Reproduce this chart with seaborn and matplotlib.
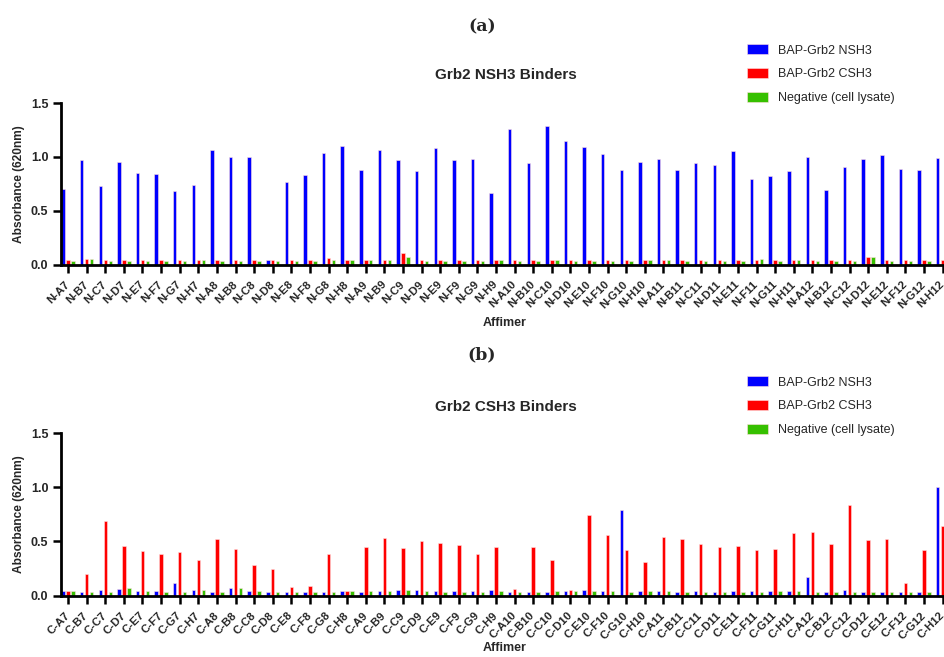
import matplotlib
matplotlib.use("Agg")
import matplotlib.pyplot as plt
import seaborn as sns
import pandas as pd

n_labels = ["N-A7","N-B7","N-C7","N-D7","N-E7","N-F7","N-G7","N-H7",
            "N-A8","N-B8","N-C8","N-D8","N-E8","N-F8","N-G8","N-H8",
            "N-A9","N-B9","N-C9","N-D9","N-E9","N-F9","N-G9","N-H9",
            "N-A10","N-B10","N-C10","N-D10","N-E10","N-F10","N-G10","N-H10",
            "N-A11","N-B11","N-C11","N-D11","N-E11","N-F11","N-G11","N-H11",
            "N-A12","N-B12","N-C12","N-D12","N-E12","N-F12","N-G12","N-H12"]
a_nsh3 = [0.70,0.97,0.73,0.95,0.85,0.84,0.68,0.74,
          1.06,1.00,1.00,0.04,0.77,0.83,1.04,1.10,
          0.88,1.06,0.97,0.87,1.08,0.97,0.98,0.66,
          1.26,0.94,1.29,1.15,1.09,1.03,0.88,0.95,
          0.98,0.88,0.94,0.92,1.05,0.79,0.82,0.87,
          1.00,0.69,0.91,0.98,1.02,0.89,0.88,0.99]
a_csh3 = [0.045,0.055,0.040,0.040,0.040,0.040,0.045,0.045,
          0.040,0.040,0.040,0.040,0.040,0.040,0.060,0.045,
          0.045,0.045,0.110,0.040,0.040,0.040,0.040,0.045,
          0.040,0.040,0.045,0.040,0.040,0.040,0.040,0.045,
          0.045,0.040,0.040,0.040,0.040,0.045,0.040,0.045,
          0.040,0.040,0.045,0.070,0.040,0.040,0.040,0.040]
a_neg = [0.035,0.055,0.035,0.035,0.035,0.035,0.035,0.045,
         0.035,0.035,0.035,0.035,0.035,0.035,0.045,0.040,
         0.040,0.040,0.070,0.035,0.035,0.035,0.035,0.045,
         0.035,0.035,0.040,0.035,0.035,0.035,0.035,0.040,
         0.040,0.035,0.035,0.035,0.035,0.050,0.035,0.045,
         0.035,0.035,0.035,0.070,0.035,0.035,0.035,0.035]

c_labels = ["C-A7","C-B7","C-C7","C-D7","C-E7","C-F7","C-G7","C-H7",
            "C-A8","C-B8","C-C8","C-D8","C-E8","C-F8","C-G8","C-H8",
            "C-A9","C-B9","C-C9","C-D9","C-E9","C-F9","C-G9","C-H9",
            "C-A10","C-B10","C-C10","C-D10","C-E10","C-F10","C-G10","C-H10",
            "C-A11","C-B11","C-C11","C-D11","C-E11","C-F11","C-G11","C-H11",
            "C-A12","C-B12","C-C12","C-D12","C-E12","C-F12","C-G12","C-H12"]
b_nsh3 = [0.040,0.035,0.050,0.065,0.040,0.040,0.120,0.055,
          0.035,0.070,0.045,0.035,0.035,0.035,0.035,0.045,
          0.035,0.045,0.055,0.050,0.040,0.040,0.040,0.050,
          0.035,0.035,0.035,0.040,0.050,0.040,0.790,0.045,
          0.040,0.035,0.045,0.035,0.045,0.045,0.040,0.040,
          0.170,0.035,0.055,0.035,0.035,0.035,0.035,1.000]
b_csh3 = [0.040,0.200,0.690,0.460,0.410,0.380,0.400,0.330,
          0.520,0.430,0.280,0.250,0.080,0.090,0.380,0.045,
          0.450,0.530,0.440,0.500,0.490,0.470,0.380,0.450,
          0.060,0.450,0.330,0.050,0.740,0.560,0.420,0.310,
          0.540,0.520,0.480,0.450,0.460,0.420,0.430,0.580,
          0.590,0.480,0.840,0.510,0.520,0.120,0.420,0.640]
b_neg = [0.040,0.035,0.035,0.075,0.040,0.035,0.035,0.050,
         0.035,0.075,0.045,0.035,0.035,0.035,0.035,0.040,
         0.040,0.040,0.050,0.040,0.035,0.035,0.035,0.045,
         0.035,0.035,0.045,0.045,0.045,0.045,0.035,0.045,
         0.045,0.035,0.035,0.035,0.035,0.035,0.040,0.040,
         0.035,0.035,0.035,0.035,0.035,0.035,0.035,0.035]

series = ["BAP-Grb2 NSH3", "BAP-Grb2 CSH3", "Negative (cell lysate)"]
colors = ["#0000ff", "#ff0000", "#36c000"]
titles = ["Grb2 NSH3 Binders", "Grb2 CSH3 Binders"]
panel_tags = ["(a)", "(b)"]

sns.set_theme(style="ticks")
plt.rcParams["font.family"] = ["Liberation Sans", "DejaVu Sans"]

fig = plt.figure(figsize=(9.45, 6.57), dpi=100)

def long_df(labels, s1, s2, s3):
    return pd.DataFrame({
        "Affimer": labels * 3,
        "value": list(s1) + list(s2) + list(s3),
        "series": [series[0]] * len(labels) + [series[1]] * len(labels) + [series[2]] * len(labels),
    })

H = 657.0
panels = [
    (long_df(n_labels, a_nsh3, a_csh3, a_neg), n_labels, [61 / 945, 1 - 264.5 / H, 884 / 945, 161.5 / H]),
    (long_df(c_labels, b_nsh3, b_csh3, b_neg), c_labels, [61 / 945, 1 - 595.7 / H, 884 / 945, 162.7 / H]),
]
title_y = [1 - 75 / H, 1 - 407 / H]
tag_y = [1 - 27 / H, 1 - 355 / H]
leg_y = [1 - 44 / H, 1 - 376 / H]
xlabel_y = [-0.363, -0.322]

for i, (df, labels, rect) in enumerate(panels):
    ax = fig.add_axes(rect)
    sns.barplot(data=df, x="Affimer", y="value", hue="series", order=labels,
                hue_order=series, palette=colors, saturation=1, width=0.8, gap=0.3,
                linewidth=0.4, edgecolor="#ffe0e0", errorbar=None, ax=ax,
                legend=True)
    ax.set_ylim(0, 1.5)
    ax.set_yticks([0.0, 0.5, 1.0, 1.5])
    ax.set_yticklabels(["0.0", "0.5", "1.0", "1.5"], fontsize=9, fontweight="bold")
    ax.set_xlim(-0.38, 47.13)
    ax.set_xticks(range(len(labels)))
    ax.set_xticklabels(labels, rotation=45, ha="right", va="center", rotation_mode="anchor",
                       fontsize=8.2, fontweight="bold")
    ax.set_ylabel("Absorbance (620nm)", fontsize=8.6, fontweight="bold")
    ax.set_xlabel("Affimer", fontsize=9, fontweight="bold")
    ax.xaxis.label.set_va("center")
    ax.xaxis.set_label_coords(0.502, xlabel_y[i])
    for s in ["top", "right"]:
        ax.spines[s].set_visible(False)
    for s in ["left", "bottom"]:
        ax.spines[s].set_linewidth(2)
        ax.spines[s].set_color("black")
    ax.tick_params(axis="both", width=1.8, length=6, color="black", pad=3)
    ax.tick_params(axis="x", pad=7)
    handles, labs = ax.get_legend_handles_labels()
    ax.get_legend().remove()
    fig.legend(handles, labs, loc="upper left", bbox_to_anchor=(0.79, leg_y[i]),
               frameon=False, fontsize=9, handlelength=1.7, handleheight=0.9,
               labelspacing=0.9, handletextpad=0.8, borderaxespad=0, borderpad=0)
    fig.text(0.535, title_y[i], titles[i], ha="center", va="center",
             fontsize=11, fontweight="bold")
    fig.text(0.51, tag_y[i], panel_tags[i], ha="center", va="center",
             fontsize=12.5, fontweight="bold", family="DejaVu Serif")

fig.savefig("out.png", dpi=100)
